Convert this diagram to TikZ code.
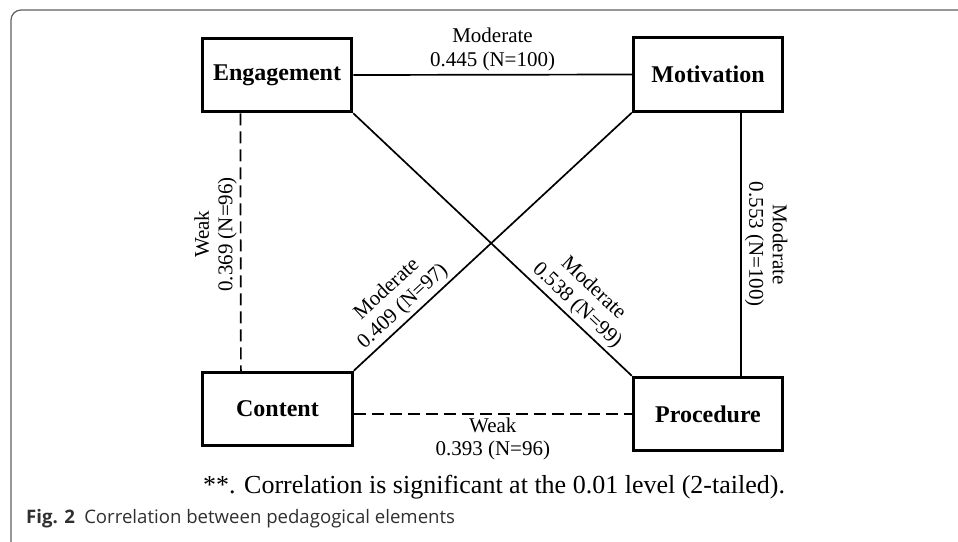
\documentclass[tikz,border=0pt]{standalone}
\usepackage{fontspec}
\setmainfont{Liberation Serif}
\newfontfamily\capfont{Open Sans}
\usetikzlibrary{calc}
\definecolor{framegray}{HTML}{606060}
\definecolor{capgray}{HTML}{303030}
\begin{document}
\begin{tikzpicture}[x=1pt,y=-1pt,
  box/.style={draw,line width=3pt,minimum width=149.5pt,minimum height=73.5pt,inner sep=0pt,
    font=\fontsize{24}{28}\selectfont\bfseries},
  link/.style={line width=1.7pt},
  weaklink/.style={line width=1.7pt,dash pattern=on 12pt off 6pt},
  lab/.style={font=\fontsize{21}{23.5}\selectfont,align=center,inner sep=3pt}]
\useasboundingbox (0,0) rectangle (958,541);
\draw[framegray,line width=1.2pt,rounded corners=10pt] (11,545) -- (11,10) -- (962,10);

\node[box] (E) at (277,75) {Engagement};
\node[box] (M) at (708,74.5) {Motivation};
\node[box] (C) at (277.5,409) {Content};
\node[box] (P) at (708,414) {Procedure};

\draw[link] (E.east) -- node[lab,anchor=south]{Moderate\\0.445 (N=100)} (M.west);
\draw[weaklink] ($(E.south west)!0.26!(E.south east)$) --
  node[lab,rotate=90,anchor=south,pos=0.47]{Weak\\0.369 (N=96)}
  ($(C.north west)!0.26!(C.north east)$);
\draw[link] ($(M.south west)!0.717!(M.south east)$) --
  node[lab,rotate=-90,anchor=south,pos=0.5]{Moderate\\0.553 (N=100)}
  ($(P.north west)!0.717!(P.north east)$);
\draw[link] (E.south east) -- node[lab,sloped,pos=0.77,anchor=south]{Moderate\\0.538 (N=99)} (P.north west);
\draw[link] (C.north east) -- node[lab,sloped,pos=0.21,anchor=south]{Moderate\\0.409 (N=97)} (M.south west);
\draw[weaklink] (C.east |- P.west) -- node[lab,anchor=north]{Weak\\0.393 (N=96)} (P.west);

\node[font=\fontsize{26}{30}\selectfont,anchor=base,inner sep=0pt] (note) at (494,493)
  {**. Correlation is significant at the 0.01 level (2-tailed).};
\node[anchor=base west,inner sep=0pt,text=capgray,font=\capfont\fontsize{18.6}{21}\selectfont] (cap) at (26,523)
  {\textbf{Fig. 2}\hspace{0.5em}Correlation between pedagogical elements};
\end{tikzpicture}
\end{document}
